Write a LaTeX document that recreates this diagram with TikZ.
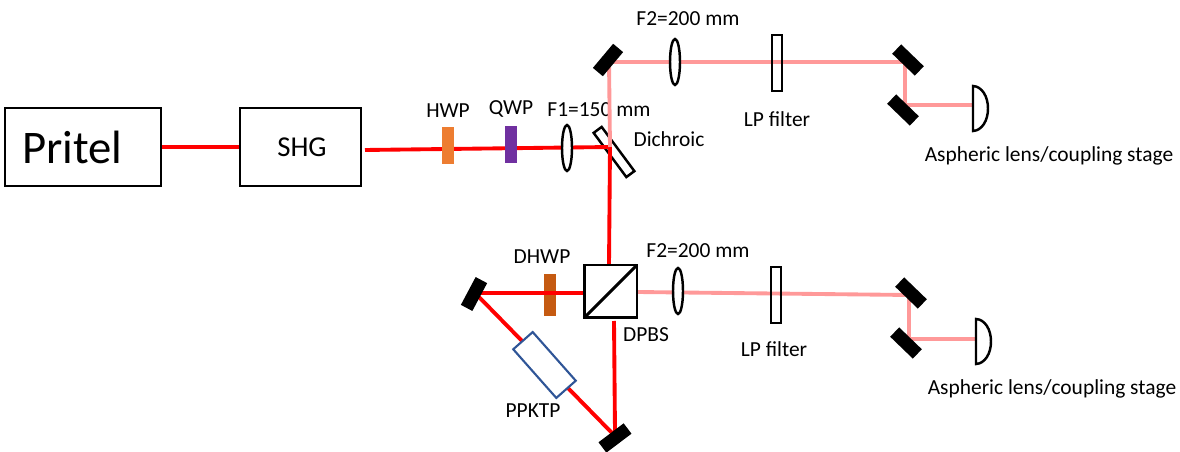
\documentclass[tikz,border=0pt]{standalone}
\usepackage{fontspec}
\setmainfont{Carlito}
\usetikzlibrary{shapes.geometric}
\definecolor{beamred}{HTML}{FF0000}
\definecolor{beampink}{HTML}{FF9999}
\tikzset{
    redbeam/.style={beamred,line width=2.2pt},
    pinkbeam/.style={beampink,line width=2.2pt},
    box/.style={draw,line width=1.4pt,inner sep=0pt},
    mirror/.style={fill=black,inner sep=0pt,minimum width=0.63cm,minimum height=0.26cm},
    lens/.style={ellipse,draw,fill=white,line width=1.4pt,inner sep=0pt,minimum width=0.2cm,minimum height=0.92cm},
    plate/.style={inner sep=0pt,minimum width=0.24cm,minimum height=0.74cm},
    filter/.style={box,minimum width=0.2cm,minimum height=1.12cm},
    lab/.style={inner sep=0pt,font=\fontsize{12.2pt}{14pt}\selectfont}
}
\begin{document}
\begin{tikzpicture}[x=0.02cm,y=-0.02cm]
        \useasboundingbox (0, 0) rectangle (1180, 452);
        \foreach \n/\x/\y/\t in {hwpl/448/111/HWP, qwpl/511/109/QWP, fonel/599/110/F1=150 mm, ftwol/688/19/F2=200 mm,
            dichl/669/139/Dichroic, lpl/777/119/LP filter, aspl/1049/156/Aspheric lens\slash coupling stage,
            dhwpl/542/257/DHWP, ftwom/698/251/F2=200 mm, dpbsl/646/335/DPBS, lpm/774/349/LP filter,
            aspm/1052/389/Aspheric lens\slash coupling stage, ppktpl/533/411/PPKTP}{
            \node (\n) at (\x, \y)[lab]{\t};
        }
        \node (pritel) at (83, 147)[box,minimum width=3.12cm,minimum height=1.56cm,font=\fontsize{26.6pt}{30pt}\selectfont]{\raisebox{-0.12cm}{Pritel}\kern0.42cm};
        \node (shg) at (300.5, 147)[box,minimum width=2.42cm,minimum height=1.56cm,font=\fontsize{16.4pt}{18pt}\selectfont]{\kern0.06cm\raisebox{-0.05cm}{SHG}};
        \node (dich) at (614, 152)[box,fill=white,rotate=-53.5,minimum width=1.1cm,minimum height=0.2cm]{};
        \node (dhwp) at (550, 295)[plate,fill={rgb,255:red,197;green,90;blue,17},minimum height=0.84cm]{};
        % beam corners
        \coordinate (shgout) at (365, 150);
        \coordinate (split) at (610, 147);
        \coordinate (pbstop) at (609, 265);
        \coordinate (pbsleft) at (584, 293);
        \coordinate (pbsright) at (637, 292);
        \coordinate (pbsbot) at (614, 321);
        \coordinate (upa) at (609, 62);
        \coordinate (upb) at (905, 62);
        \coordinate (upc) at (905, 105);
        \coordinate (upd) at (973, 105);
        \coordinate (loa) at (909, 295);
        \coordinate (lob) at (909, 339);
        \coordinate (loc) at (976, 339);
        \coordinate (ml) at (479, 293);
        \coordinate (mk) at (479, 297);
        \coordinate (mb) at (612, 433);
        \coordinate (mc) at (615, 432);
        \draw[redbeam] (pritel.east) -- (shg.west);
        \draw[redbeam] (shgout) -- (split) -- (pbstop);
        \draw[pinkbeam] (split) -- (upa) -- (upb) -- (upc) -- (upd);
        \draw[pinkbeam] (pbsright) -- (loa) -- (lob) -- (loc);
        \draw[redbeam] (pbsleft) -- (ml);
        \draw[redbeam] (mk) -- (mb);
        \draw[redbeam] (pbsbot) -- (mc);
        \node (pbs) at (610.5, 291.5)[box,line width=1.7pt,outer sep=0pt,fill=white,minimum width=1.06cm,minimum height=1.06cm]{};
        \draw[line width=1.7pt] (pbs.south west) -- (pbs.north east);
        \node (ppktp) at (544.5, 365)[draw={rgb,255:red,47;green,85;blue,151},fill=white,line width=1.2pt,inner sep=0pt,rotate=-48.5,minimum width=1.3cm,minimum height=0.52cm]{};
        \node (hwp) at (448, 146)[plate,fill={rgb,255:red,237;green,125;blue,49}]{};
        \node (qwp) at (511, 145)[plate,fill={rgb,255:red,112;green,48;blue,160}]{};
        \foreach \n/\x/\y in {lfone/567/148, lftwo/675/62, lfthree/678/291}{
            \node (\n) at (\x, \y)[lens]{};
        }
        \node (lpu) at (777, 63)[filter]{};
        \node (lpd) at (776, 295)[filter]{};
        \foreach \n/\x/\y/\r in {mone/608/60/50, mtwo/908/60/-44, mthree/903/110/-44, mfour/911/293/-44,
            mfive/906/343/-44, msix/474/294/62, mseven/615/438/37}{
            \node (\n) at (\x, \y)[mirror,rotate=\r]{};
        }
        \foreach \x/\y in {973/108.5, 976/341.5}{
            \draw[line width=1.4pt,fill=white] (\x, \y-22.5) .. controls (\x+9, \y-22) and (\x+15, \y-12) .. (\x+15, \y) .. controls (\x+15, \y+12) and (\x+9, \y+22) .. (\x, \y+22.5) -- cycle;
        }
    \end{tikzpicture}
\end{document}
